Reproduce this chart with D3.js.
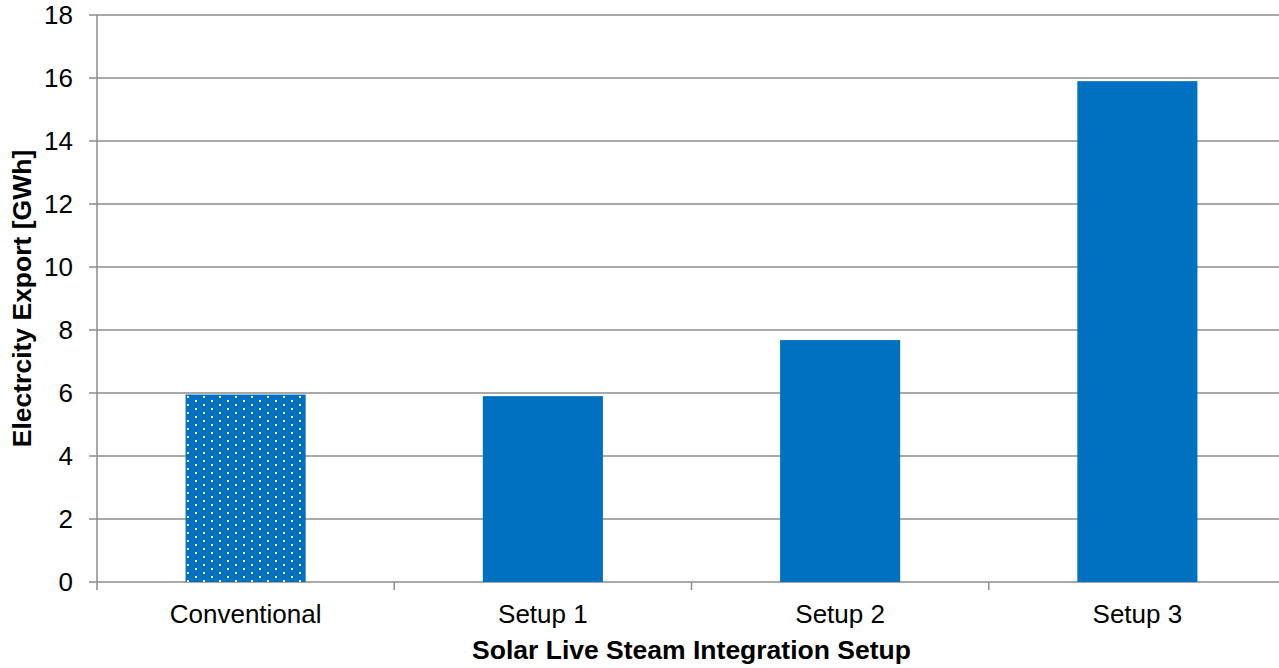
<!DOCTYPE html>
<html>
<head>
<meta charset="utf-8">
<script src="https://cdn.jsdelivr.net/npm/d3@7"></script>
<style>
  body { margin: 0; background: #fff; }
  text { font-family: "Liberation Sans", Arial, sans-serif; fill: #000; }
</style>
</head>
<body>
<div id="chart"></div>
<script>
var svgWidth = 1279;
var svgHeight = 668;
var margin = { top: 15, right: -7, bottom: 86, left: 97 };

var width = svgWidth - margin.left - margin.right;
var height = svgHeight - margin.top - margin.bottom;

// data
var categories = ["Conventional", "Setup 1", "Setup 2", "Setup 3"];
var exportValues = [5.95, 5.9, 7.68, 15.9];
var yTicks = [0, 2, 4, 6, 8, 10, 12, 14, 16, 18];

var svg = d3.select("#chart")
  .append("svg")
  .attr("width", svgWidth)
  .attr("height", svgHeight);

// dotted fill for the conventional bar
var defs = svg.append("defs");
var pat = defs.append("pattern")
  .attr("id", "dots")
  .attr("patternUnits", "userSpaceOnUse")
  .attr("width", 16)
  .attr("height", 8)
  .attr("x", 2)
  .attr("y", 1);
pat.append("rect").attr("width", 16).attr("height", 8).attr("fill", "#0070c0");
pat.append("rect").attr("x", 0).attr("y", 0).attr("width", 2).attr("height", 2).attr("fill", "#fff");
pat.append("rect").attr("x", 8).attr("y", 4).attr("width", 2).attr("height", 2).attr("fill", "#fff");

var chartGroup = svg.append("g")
  .attr("transform", `translate(${margin.left}, ${margin.top})`);

var xScale = d3.scaleBand()
  .domain(categories)
  .range([0, width])
  .paddingInner(0.596)
  .paddingOuter(0.298);

var yScale = d3.scaleLinear()
  .domain([0, 18])
  .range([height, 0]);

// gridlines
chartGroup.append("g")
  .selectAll("line")
  .data(yTicks)
  .enter()
  .append("line")
  .attr("x1", -8)
  .attr("x2", width)
  .attr("y1", d => yScale(d))
  .attr("y2", d => yScale(d))
  .attr("stroke", "#8c8c8c")
  .attr("stroke-width", 1.5);

// bars
chartGroup.selectAll(".bar")
  .data(exportValues)
  .enter()
  .append("rect")
  .attr("class", "bar")
  .attr("x", (d, i) => xScale(categories[i]))
  .attr("width", xScale.bandwidth())
  .attr("y", d => yScale(d))
  .attr("height", d => height - yScale(d))
  .attr("fill", (d, i) => i === 0 ? "url(#dots)" : "#0070c0");

// y axis line
chartGroup.append("line")
  .attr("x1", 0).attr("x2", 0)
  .attr("y1", 0).attr("y2", height + 8)
  .attr("stroke", "#8c8c8c")
  .attr("stroke-width", 1.5);

// x tick marks between categories
var step = xScale.step();
chartGroup.append("g")
  .selectAll("line")
  .data(d3.range(1, categories.length + 1))
  .enter()
  .append("line")
  .attr("x1", d => d * step)
  .attr("x2", d => d * step)
  .attr("y1", height)
  .attr("y2", height + 8)
  .attr("stroke", "#8c8c8c")
  .attr("stroke-width", 1.5);

// y tick labels
chartGroup.append("g")
  .selectAll("text")
  .data(yTicks)
  .enter()
  .append("text")
  .attr("x", -24)
  .attr("y", d => yScale(d))
  .attr("dy", "0.35em")
  .attr("text-anchor", "end")
  .style("font-size", "26px")
  .text(d => d);

// x tick labels
chartGroup.append("g")
  .selectAll("text")
  .data(categories)
  .enter()
  .append("text")
  .attr("x", d => xScale(d) + xScale.bandwidth() / 2)
  .attr("y", height + 41)
  .attr("text-anchor", "middle")
  .style("font-size", "26px")
  .text(d => d);

// axis titles
svg.append("text")
  .attr("x", margin.left + (svgWidth - margin.left + 7) / 2)
  .attr("y", 659)
  .attr("text-anchor", "middle")
  .style("font-size", "26.5px")
  .style("font-weight", "bold")
  .text("Solar Live Steam Integration Setup");

svg.append("text")
  .attr("transform", `translate(31, ${margin.top + height / 2}) rotate(-90)`)
  .attr("text-anchor", "middle")
  .style("font-size", "26.5px")
  .style("font-weight", "bold")
  .text("Electrcity Export [GWh]");
</script>
</body>
</html>
